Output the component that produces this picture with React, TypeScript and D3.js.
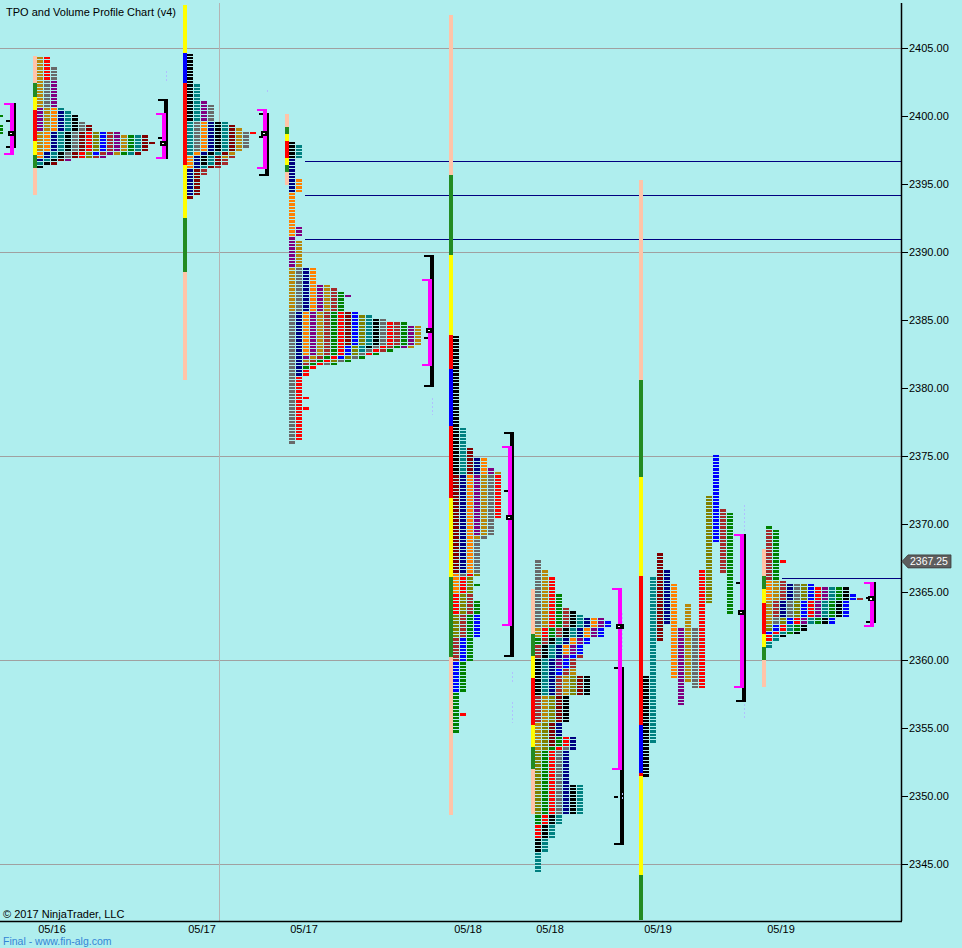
import React from "react";
import * as d3 from "d3";

// ---------------- data ----------------
const priceTicks = [2345, 2350, 2355, 2360, 2365, 2370, 2375, 2380, 2385, 2390, 2395, 2400, 2405];
const gridPrices = [2345, 2360, 2375, 2390, 2405];
const lastPrice = 2367.25;
const timeGridSlots = [31.29];

const sessionKeys = ["A", "B", "C", "D", "E", "F", "G", "H"];
const sessionSlots = [-0.43, 5.29, 26.71, 41.29, 64.71, 76.43, 91.86, 109.43];
const sessionLabels = ["", "05/16", "05/17", "05/17", "05/18", "05/18", "05/19", "05/19"];
const splitSessions = ["G"];

type Period = [string, number, number]; // [period colour key, low, high]

const periodsA: Period[] = [["e", 2400.0, 2400.0], ["e", 2398.75, 2399.25]];

const periodsB: Period[] = [
  ["g", 2400.75, 2404.25], ["r", 2402.75, 2404.25], ["y", 2400.75, 2403.5], ["p", 2399.0, 2402.5],
  ["g", 2397.5, 2400.5], ["o", 2397.0, 2400.5], ["n", 2396.75, 2400.25], ["t", 2396.5, 2400.5],
  ["k", 2396.25, 2400.0], ["y", 2397.0, 2399.5], ["d", 2396.5, 2399.25], ["r", 2397.0, 2398.75],
  ["v", 2397.0, 2398.75], ["b", 2397.25, 2398.75], ["w", 2397.0, 2398.75], ["p", 2396.75, 2398.75],
  ["g", 2397.25, 2398.5], ["e", 2397.25, 2398.5], ["t", 2397.25, 2398.5], ["d", 2397.25, 2398.5],
  ["d", 2398.0, 2398.0],
];

const periodsC: Period[] = [
  ["k", 2399.75, 2404.5], ["t", 2397.25, 2402.25], ["p", 2399.75, 2401.0], ["y", 2397.5, 2400.75],
  ["o", 2396.25, 2399.5], ["n", 2394.25, 2399.5], ["k", 2396.5, 2399.5], ["t", 2396.25, 2399.5],
  ["d", 2394.0, 2399.25], ["g", 2397.0, 2399.0], ["y", 2397.75, 2398.75], ["r", 2398.75, 2398.75],
  ["w", 2395.75, 2397.0],
];

const periodsD: Period[] = [
  ["k", 2397.0, 2398.0], ["t", 2397.0, 2397.75], ["n", 2394.5, 2396.75], ["o", 2391.25, 2395.25],
  ["p", 2389.0, 2391.75], ["g", 2385.75, 2390.75], ["y", 2376.0, 2388.75], ["n", 2381.0, 2388.75],
  ["o", 2382.5, 2388.75], ["p", 2382.25, 2387.5], ["g", 2382.0, 2387.5], ["w", 2381.75, 2387.25],
  ["e", 2381.5, 2387.0], ["p", 2386.75, 2386.75], ["r", 2376.25, 2385.5], ["d", 2383.25, 2385.5],
  ["b", 2382.25, 2385.5], ["v", 2382.0, 2385.25], ["t", 2382.75, 2385.25], ["k", 2383.0, 2385.0],
  ["y", 2381.75, 2385.0], ["r", 2382.5, 2384.75], ["w", 2382.75, 2384.75], ["e", 2381.75, 2384.75],
  ["p", 2383.0, 2384.5], ["g", 2383.0, 2384.5], ["r", 2379.25, 2379.25], ["r", 2378.5, 2378.5],
];

const periodsE: Period[] = [
  ["k", 2373.75, 2383.75], ["t", 2373.75, 2377.0], ["d", 2366.5, 2375.5], ["n", 2366.5, 2374.75],
  ["o", 2365.0, 2374.75], ["p", 2369.25, 2374.0], ["g", 2369.0, 2373.75], ["y", 2366.25, 2373.5],
  ["r", 2370.5, 2373.5], ["r", 2363.5, 2366.25], ["v", 2361.75, 2366.25], ["e", 2365.5, 2365.5],
  ["w", 2360.0, 2364.75], ["e", 2361.75, 2364.25], ["b", 2357.75, 2363.25], ["e", 2354.75, 2361.5],
  ["r", 2356.0, 2356.0],
];

const periodsF: Period[] = [
  ["y", 2362.5, 2367.25], ["g", 2361.75, 2366.5], ["r", 2361.75, 2366.0], ["e", 2361.25, 2364.75],
  ["w", 2360.25, 2363.75], ["k", 2357.5, 2363.5], ["t", 2357.5, 2363.25], ["n", 2357.5, 2363.0],
  ["o", 2360.5, 2363.0], ["p", 2359.5, 2363.0], ["b", 2359.0, 2362.75], ["w", 2355.5, 2360.25],
  ["g", 2353.5, 2359.25], ["v", 2348.75, 2358.75], ["d", 2353.75, 2358.75], ["k", 2355.5, 2358.75],
  ["e", 2348.0, 2354.25], ["r", 2347.0, 2354.25], ["y", 2348.75, 2353.5], ["n", 2348.75, 2355.25],
  ["k", 2346.0, 2350.75], ["t", 2344.5, 2350.75],
];

const periodsG: Period[] = [
  ["k", 2351.5, 2358.75], ["t", 2354.0, 2366.0], ["d", 2361.5, 2367.75], ["n", 2362.75, 2366.5],
  ["o", 2358.75, 2365.5], ["p", 2356.75, 2362.25], ["g", 2358.5, 2364.0], ["y", 2358.0, 2362.25],
  ["r", 2358.0, 2366.5], ["v", 2364.25, 2372.0], ["b", 2368.75, 2375.0], ["w", 2366.5, 2371.0],
  ["e", 2363.5, 2370.75],
];

const periodsH: Period[] = [
  ["w", 2366.0, 2369.5], ["e", 2366.0, 2369.75], ["r", 2367.25, 2367.25], ["o", 2364.5, 2365.75],
  ["g", 2362.75, 2365.75], ["w", 2363.25, 2365.75], ["n", 2363.25, 2365.5], ["y", 2362.75, 2365.5],
  ["v", 2362.25, 2365.5], ["b", 2362.0, 2365.5], ["r", 2361.5, 2365.25], ["p", 2362.75, 2365.25],
  ["t", 2361.0, 2365.25], ["e", 2362.0, 2365.25], ["k", 2361.75, 2365.25], ["b", 2362.75, 2364.75],
  ["w", 2364.5, 2364.5],
];

// rails: edges (top → bottom) and one colour key per segment
const railAEdges: number[] = [];
const railAColors = "";
const railBEdges = [2404.43, 2402.45, 2401.4, 2400.44, 2398.18, 2397.15, 2396.18, 2394.21];
const railBColors = "PGYRYGP";
const railCEdges = [2408.16, 2404.63, 2402.43, 2396.4, 2392.5, 2388.53, 2380.59];
const railCColors = "YBRYGP";
const railDEdges = [2400.15, 2399.21, 2398.68, 2398.16, 2396.91, 2396.4, 2395.88, 2394.93];
const railDColors = "PGYRYGP";
const railEEdges = [2407.43, 2395.66, 2389.78, 2383.9, 2381.4, 2377.21, 2371.91, 2366.1, 2360.22, 2348.6];
const railEColors = "PGYRBRYGP";
const railFEdges = [2365.22, 2361.91, 2360.29, 2358.68, 2355.22, 2353.6, 2351.99, 2348.68];
const railFColors = "PGYRYGP";
const railGEdges = [2395.29, 2380.59, 2373.46, 2366.18, 2355.22, 2351.69, 2351.47, 2344.19, 2340.88];
const railGColors = "PGYRBRYG";
const railHEdges = [2368.16, 2366.18, 2365.22, 2364.19, 2361.91, 2360.96, 2360.0, 2358.01];
const railHColors = "PGYRYGP";

// value area (magenta), black range, POC, ticks, faint dashes
const vaRanges: [number, number][] = [
  [2397.13, 2400.96], [2396.86, 2400.22], [2396.1, 2400.51], [2381.62, 2388.01],
  [2362.5, 2375.74], [2351.91, 2365.29], [2357.94, 2369.26], [2362.43, 2365.74],
];
const ibRanges: [number, number][] = [
  [2397.65, 2400.96], [2396.84, 2401.25], [2395.59, 2400.22], [2380.07, 2389.78],
  [2360.22, 2376.76], [2346.4, 2359.49], [2356.9, 2369.26], [2362.72, 2365.74],
];
const pocPrices = [2398.75, 2398.0, 2398.75, 2384.25, 2370.5, 2362.5, 2363.5, 2364.5];
const markTicks: number[][] = [
  [2399.63, 2397.72], [2398.4], [2398.46], [2383.68], [2372.43], [2349.93], [2365.66], [2364.56],
];
const faintDashes: [number, number][][] = [
  [], [[2402.5, 2403.3]], [[2401.7, 2401.9]], [[2378.0, 2379.3]],
  [[2358.3, 2359.1], [2355.4, 2356.9]], [[2360.74, 2363.46], [2349.7, 2350.2]],
  [[2369.4, 2371.4], [2355.6, 2356.8]], [],
];

const levelPrices = [2396.68, 2394.17, 2390.93, 2366.0];
const levelSessions = ["D", "D", "D", "H"];

// ---------------- styles ----------------
const BG = "#AFEEEE";
const FONT = "'Liberation Sans', Arial, Helvetica, sans-serif";
const periodColor: Record<string, string> = {
  k: "#000000", n: "#000080", o: "#FF8000", p: "#800080", g: "#B8860B", y: "#696969",
  r: "#FF0000", v: "#808000", b: "#0000FF", w: "#A52A2A", e: "#008000", d: "#800000", t: "#008080",
};
const railColor: Record<string, string> = {
  P: "#FFC4A8", G: "#228B22", Y: "#FFFF00", R: "#FF0000", B: "#0000FF",
};
const COL = 7;
const CELL_W = 6;
const CELL_H = 2.4;
const RIGHT = 901;
const TOP = 3;
const BOTTOM = 921;

const allPeriods = [periodsA, periodsB, periodsC, periodsD, periodsE, periodsF, periodsG, periodsH];
const allRailEdges = [railAEdges, railBEdges, railCEdges, railDEdges, railEEdges, railFEdges, railGEdges, railHEdges];
const allRailColors = [railAColors, railBColors, railCColors, railDColors, railEColors, railFColors, railGColors, railHColors];

function pack(periods: Period[], split: boolean) {
  const counts = new Map<number, number>();
  const cells: { price: number; col: number; color: string }[] = [];
  periods.forEach(([c, lo, hi], i) => {
    for (let q = Math.round(hi * 4); q >= Math.round(lo * 4); q--) {
      const n = counts.get(q) ?? 0;
      counts.set(q, n + 1);
      cells.push({ price: q / 4, col: split ? i : n, color: periodColor[c] });
    }
  });
  const maxCols = split ? periods.length : Math.max(0, ...Array.from(counts.values()));
  return { cells, maxCols };
}

export default function App() {
  const x = d3.scaleLinear().domain([0, 128.71]).range([0, RIGHT]);
  const y = d3.scaleLinear().domain([2345, 2405]).range([864, 48]);
  const fmt = d3.format(".2f");

  const sessions = sessionKeys.map((key, i) => {
    const x0 = Math.round(x(sessionSlots[i]));
    const { cells, maxCols } = pack(allPeriods[i], splitSessions.includes(key));
    const bx = x0 + COL * (maxCols + 1) + 5;
    return { key, i, x0, cells, bx };
  });
  const sessionX = (k: string) => sessions.find((s) => s.key === k)!.x0;

  const yl = y(lastPrice);

  return (
    <svg
      width={962}
      height={948}
      style={{ position: "absolute", left: 0, top: 0, display: "block" }}
      fontFamily={FONT}
    >
      <defs>
        <clipPath id="plot">
          <rect x={0} y={TOP} width={RIGHT} height={BOTTOM - TOP} />
        </clipPath>
      </defs>
      <rect x={0} y={0} width={962} height={948} fill={BG} />

      <g clipPath="url(#plot)">
        {gridPrices.map((p) => (
          <line key={p} x1={0} x2={RIGHT} y1={Math.round(y(p)) + 0.5} y2={Math.round(y(p)) + 0.5} stroke="#A0A0A0" strokeWidth={1} />
        ))}
        {timeGridSlots.map((s) => (
          <line key={s} x1={Math.round(x(s)) + 0.5} x2={Math.round(x(s)) + 0.5} y1={TOP} y2={BOTTOM} stroke="#B4B4B4" strokeWidth={1} />
        ))}
        {levelPrices.map((p, i) => (
          <line key={i} x1={sessionX(levelSessions[i]) + 16} x2={RIGHT} y1={Math.round(y(p)) + 0.5} y2={Math.round(y(p)) + 0.5} stroke="#000080" strokeWidth={1} />
        ))}

        {sessions.map((s) => (
          <g key={s.key} shapeRendering="crispEdges">
            {allRailColors[s.i].split("").map((c, j) => {
              const e = allRailEdges[s.i];
              return (
                <rect key={j} x={s.x0 - 4} width={3.7} y={y(e[j])} height={y(e[j + 1]) - y(e[j])} fill={railColor[c]} />
              );
            })}
            {s.cells.map((c, j) => (
              <rect key={j} x={s.x0 + c.col * COL} y={y(c.price) - CELL_H / 2} width={CELL_W} height={CELL_H} fill={c.color} />
            ))}
            {/* black range bracket */}
            <rect x={s.bx - 4} width={4} y={y(ibRanges[s.i][1])} height={y(ibRanges[s.i][0]) - y(ibRanges[s.i][1])} fill="#000" />
            <rect x={s.bx - 10} width={10} y={y(ibRanges[s.i][1])} height={2} fill="#000" />
            <rect x={s.bx - 10} width={10} y={y(ibRanges[s.i][0]) - 2} height={2} fill="#000" />
            {/* value area bracket */}
            <rect x={s.bx - 6} width={4} y={y(vaRanges[s.i][1])} height={y(vaRanges[s.i][0]) - y(vaRanges[s.i][1])} fill="#FF00FF" />
            <rect x={s.bx - 12} width={10} y={y(vaRanges[s.i][1])} height={2} fill="#FF00FF" />
            <rect x={s.bx - 12} width={10} y={y(vaRanges[s.i][0]) - 2} height={2} fill="#FF00FF" />
            {markTicks[s.i].map((t, j) => (
              <rect key={j} x={s.bx - 10} width={4} y={y(t) - 1} height={2} fill="#000" />
            ))}
            {faintDashes[s.i].map(([lo, hi], j) => (
              <line key={j} x1={s.bx - 1.5} x2={s.bx - 1.5} y1={y(hi)} y2={y(lo)} stroke="#B0C0FF" strokeWidth={1} strokeDasharray="2 2" />
            ))}
            <rect x={s.bx - 8} width={8} y={y(pocPrices[s.i]) - 2.5} height={5} fill="#000" />
            <rect x={s.bx - 6} width={2} y={y(pocPrices[s.i]) - 0.5} height={1.5} fill="#FFF" />
          </g>
        ))}
      </g>

      {/* axes */}
      <line x1={RIGHT + 0.5} x2={RIGHT + 0.5} y1={TOP} y2={BOTTOM} stroke="#000" strokeWidth={1.5} />
      <line x1={0} x2={RIGHT + 1} y1={BOTTOM + 0.5} y2={BOTTOM + 0.5} stroke="#000" strokeWidth={1.5} />
      {priceTicks.map((p) => (
        <g key={p}>
          <line x1={RIGHT + 1} x2={RIGHT + 7} y1={Math.round(y(p)) + 0.5} y2={Math.round(y(p)) + 0.5} stroke="#000" strokeWidth={1} />
          <text x={909} y={y(p) + 4} fontSize={11} fill="#000">{fmt(p)}</text>
        </g>
      ))}

      {/* last price tag */}
      <polygon
        points={`${RIGHT + 1},${yl} ${908},${yl - 6.5} ${951},${yl - 6.5} ${951},${yl + 6.5} ${908},${yl + 6.5}`}
        fill="#5E5E5E"
        stroke="#3A3A3A"
        strokeWidth={0.8}
      />
      <text x={910} y={yl + 4} fontSize={10.5} fill="#FFFFFF">{fmt(lastPrice)}</text>

      {sessions.map((s) =>
        sessionLabels[s.i] ? (
          <text key={s.key} x={s.x0 + 15} y={933} fontSize={11} textAnchor="middle" fill="#000">
            {sessionLabels[s.i]}
          </text>
        ) : null
      )}

      <text x={6} y={15.5} fontSize={11} fill="#000">TPO and Volume Profile Chart (v4)</text>
      <text x={3} y={917.5} fontSize={11} fill="#000">© 2017 NinjaTrader, LLC</text>
      <text x={3} y={944.5} fontSize={10.5} fill="#3385D6">Final - www.fin-alg.com</text>
    </svg>
  );
}
